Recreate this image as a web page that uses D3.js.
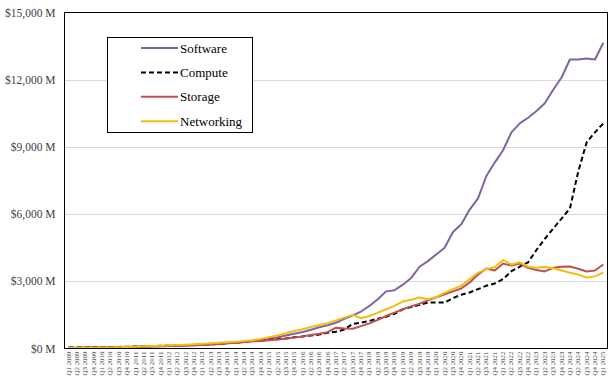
<!DOCTYPE html>
<html>
<head>
<meta charset="utf-8">
<script src="https://cdn.jsdelivr.net/npm/d3@7"></script>
<style>
  html, body { margin: 0; padding: 0; background: #fff; }
  svg { display: block; }
</style>
</head>
<body>
<div id="chart"></div>
<script>
const quarters = [
  "Q1 2009","Q2 2009","Q3 2009","Q4 2009","Q1 2010","Q2 2010","Q3 2010","Q4 2010",
  "Q1 2011","Q2 2011","Q3 2011","Q4 2011","Q1 2012","Q2 2012","Q3 2012","Q4 2012",
  "Q1 2013","Q2 2013","Q3 2013","Q4 2013","Q1 2014","Q2 2014","Q3 2014","Q4 2014",
  "Q1 2015","Q2 2015","Q3 2015","Q4 2015","Q1 2016","Q2 2016","Q3 2016","Q4 2016",
  "Q1 2017","Q2 2017","Q3 2017","Q4 2017","Q1 2018","Q2 2018","Q3 2018","Q4 2018",
  "Q1 2019","Q2 2019","Q3 2019","Q4 2019","Q1 2020","Q2 2020","Q3 2020","Q4 2020",
  "Q1 2021","Q2 2021","Q3 2021","Q4 2021","Q1 2022","Q2 2022","Q3 2022","Q4 2022",
  "Q1 2023","Q2 2023","Q3 2023","Q4 2023","Q1 2024","Q2 2024","Q3 2024","Q4 2024",
  "Q1 2025"
];

const software = [30,35,40,45,50,55,60,65,75,85,95,105,115,125,135,150,165,185,205,235,
  260,290,330,380,440,500,580,660,740,840,950,1040,1150,1320,1480,1650,1900,2200,2550,2600,
  2850,3150,3650,3900,4200,4500,5200,5550,6200,6700,7700,8300,8850,9650,10050,10300,10600,10950,11550,12100,
  12900,12900,12950,12900,13650];

const compute = [40,45,50,55,60,65,70,80,90,100,110,120,130,140,150,160,175,190,210,240,
  270,300,330,360,390,420,450,500,540,580,620,700,750,850,1100,1150,1230,1330,1420,1550,
  1750,1850,1950,2050,2050,2050,2250,2400,2500,2650,2800,2900,3100,3450,3650,3850,4400,4900,5350,5800,
  6250,7900,9200,9650,10050];

const storage = [20,25,30,35,40,45,50,60,70,80,90,100,110,120,130,145,160,180,200,230,
  260,290,320,340,370,400,440,490,530,600,660,730,930,890,880,1000,1120,1280,1450,1600,
  1750,1880,2000,2150,2280,2420,2550,2680,2950,3300,3570,3480,3790,3700,3790,3600,3500,3440,3600,3650,
  3660,3560,3440,3480,3750];

const networking = [20,25,30,35,40,50,60,70,80,95,110,125,140,155,170,190,210,230,255,275,
  300,330,370,420,500,580,680,780,860,960,1050,1130,1250,1380,1500,1350,1450,1600,1750,1900,
  2100,2180,2280,2200,2300,2480,2650,2800,3100,3380,3550,3630,3950,3750,3850,3650,3600,3650,3580,3480,
  3380,3300,3170,3220,3400];

const seriesNames = ["Software", "Compute", "Storage", "Networking"];
const yTicks = [0, 3000, 6000, 9000, 12000, 15000];

const seriesData = [software, compute, storage, networking];
const seriesColors = ["#8064A2", "#000000", "#C0504D", "#F5BD0F"];
const seriesDash = [null, "5,3", null, null];

const W = 615, H = 381;
const plot = { left: 64.5, right: 607.5, top: 12.5, bottom: 348.5 };

const svg = d3.select("#chart").append("svg")
  .attr("width", W).attr("height", H)
  .style("font-family", "'Liberation Serif', 'DejaVu Serif', serif");

const x = d3.scaleBand().domain(quarters).range([plot.left, plot.right]).padding(0);
const cx = q => x(q) + x.bandwidth() / 2;
const y = d3.scaleLinear().domain([0, 15000]).range([plot.bottom, plot.top]);

// gridlines
svg.append("g").selectAll("line")
  .data(yTicks.filter(t => t > 0 && t < 15000))
  .join("line")
  .attr("x1", plot.left).attr("x2", plot.right)
  .attr("y1", d => Math.round(y(d)) + 0.5).attr("y2", d => Math.round(y(d)) + 0.5)
  .attr("stroke", "#d9d9d9").attr("stroke-width", 1);

// y axis labels
const yAxis = d3.axisLeft(y).tickValues(yTicks).tickSize(0).tickPadding(9)
  .tickFormat(d => "$" + d3.format(",")(d) + " M");
const gy = svg.append("g").attr("transform", `translate(${plot.left},0)`).call(yAxis);
gy.select(".domain").remove();
gy.selectAll("text").attr("font-size", "11.5px").attr("fill", "#404040")
  .style("font-family", "'Liberation Serif', serif");

// x axis labels
const xAxis = d3.axisBottom(x).tickSize(0).tickPadding(0);
const gx = svg.append("g").attr("transform", `translate(0,${plot.bottom})`).call(xAxis);
gx.select(".domain").remove();
gx.selectAll("text")
  .attr("font-size", "5.5px").attr("fill", "#404040")
  .attr("text-anchor", "end")
  .attr("dy", null).attr("y", null)
  .attr("textLength", 24).attr("lengthAdjust", "spacingAndGlyphs")
  .attr("transform", "translate(2,3) rotate(-90)")
  .style("font-family", "'Liberation Serif', serif");

// lines
const line = d3.line().x((d, i) => cx(quarters[i])).y(d => y(d));
seriesData.forEach((s, k) => {
  svg.append("path")
    .datum(s)
    .attr("d", line)
    .attr("fill", "none")
    .attr("stroke", seriesColors[k])
    .attr("stroke-width", 2)
    .attr("stroke-linejoin", "round")
    .attr("stroke-dasharray", seriesDash[k]);
});

// frame
svg.append("rect")
  .attr("x", plot.left).attr("y", plot.top)
  .attr("width", plot.right - plot.left).attr("height", plot.bottom - plot.top)
  .attr("fill", "none").attr("stroke", "#000").attr("stroke-width", 1);

// legend
const lg = svg.append("g");
lg.append("rect")
  .attr("x", 107.5).attr("y", 37.5).attr("width", 145).attr("height", 95)
  .attr("fill", "#fff").attr("stroke", "#000").attr("stroke-width", 1);
seriesNames.forEach((name, k) => {
  const ly = 48 + k * 24.4;
  lg.append("line")
    .attr("x1", 141).attr("x2", 178).attr("y1", ly).attr("y2", ly)
    .attr("stroke", seriesColors[k]).attr("stroke-width", 2)
    .attr("stroke-dasharray", seriesDash[k]);
  lg.append("text")
    .attr("x", 180).attr("y", ly).attr("dy", "0.35em")
    .attr("font-size", "13px").attr("fill", "#000")
    .text(name);
});
</script>
</body>
</html>
